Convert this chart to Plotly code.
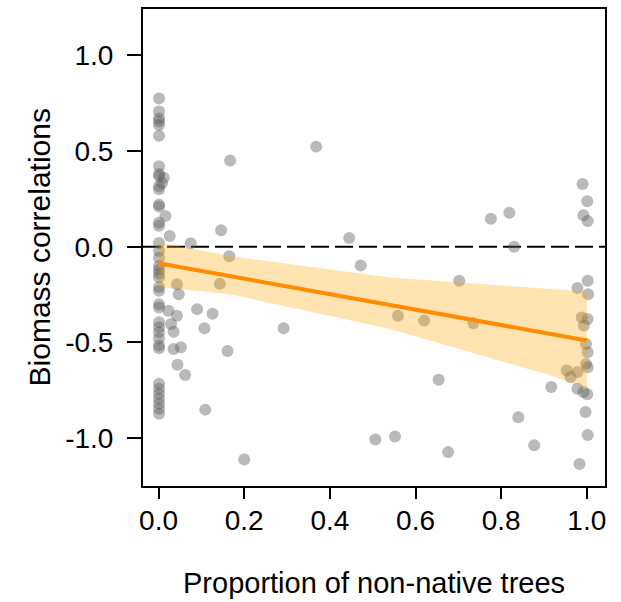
import plotly.graph_objects as go

# --- data ---
col_y = [0.775, 0.706, 0.67, 0.654, 0.636, 0.58, 0.42, 0.38, 0.37, 0.30, 0.316, 0.22, 0.21,
         0.125, 0.11, 0.02, -0.022, -0.057, -0.1, -0.12, -0.14, -0.16, -0.21, -0.23, -0.30,
         -0.317, -0.395, -0.42, -0.447, -0.48, -0.516, -0.53, -0.716, -0.742, -0.768, -0.794,
         -0.82, -0.846, -0.872]
col_x = [0.001] * len(col_y)

near_x = [0.012, 0.008, 0.016, 0.026, 0.075, 0.023, 0.029, 0.043, 0.047, 0.043, 0.09, 0.107,
          0.035, 0.035, 0.052, 0.044, 0.062, 0.109, 0.146, 0.167, 0.165, 0.143, 0.126, 0.161, 0.2]
near_y = [0.36, 0.333, 0.16, 0.056, 0.018, -0.334, -0.404, -0.196, -0.248, -0.36, -0.326, -0.426,
          -0.444, -0.534, -0.525, -0.617, -0.67, -0.851, 0.086, 0.45, -0.05, -0.194, -0.35, -0.545, -1.111]

mid_x = [0.292, 0.368, 0.445, 0.472, 0.506, 0.552, 0.559, 0.62, 0.654, 0.676, 0.702, 0.735,
         0.776, 0.819, 0.83, 0.84, 0.877, 0.917]
mid_y = [-0.426, 0.523, 0.046, -0.098, -1.007, -0.991, -0.36, -0.386, -0.695, -1.073, -0.178, -0.4,
         0.146, 0.178, 0.0, -0.891, -1.037, -0.733]

right_x = [0.99, 1.001, 0.992, 1.002, 0.978, 1.002, 1.003, 0.988, 1.002, 0.993, 0.998, 1.002,
           0.998, 1.002, 0.953, 0.978, 0.962, 0.978, 0.992, 1.001, 0.997, 1.002, 0.983]
right_y = [0.328, 0.238, 0.165, 0.134, -0.216, -0.178, -0.248, -0.37, -0.378, -0.412, -0.508, -0.551,
           -0.612, -0.63, -0.646, -0.655, -0.68, -0.742, -0.759, -0.771, -0.863, -0.984, -1.135]

prop_nonnative = col_x + near_x + mid_x + right_x
biomass_corr = col_y + near_y + mid_y + right_y

fit_x = [0.0, 1.0]
fit_y = [-0.086, -0.49]
band_x = [0.0, 0.167, 0.541, 0.914, 1.0]
band_upper = [0.024, -0.048, -0.161, -0.222, -0.234]
band_lower = [-0.21, -0.248, -0.43, -0.672, -0.74]

x_ticks = [0.0, 0.2, 0.4, 0.6, 0.8, 1.0]
x_ticklabels = ["0.0", "0.2", "0.4", "0.6", "0.8", "1.0"]
y_ticks = [-1.0, -0.5, 0.0, 0.5, 1.0]
y_ticklabels = ["-1.0", "-0.5", "0.0", "0.5", "1.0"]

FONT = "Liberation Sans, Arial, sans-serif"

fig = go.Figure()
fig.add_trace(go.Scatter(
    x=prop_nonnative, y=biomass_corr, mode="markers",
    marker=dict(size=12, color="rgba(90,90,90,0.42)", line=dict(width=0)),
    showlegend=False, hoverinfo="skip"))
fig.add_trace(go.Scatter(
    x=band_x + band_x[::-1], y=band_upper + band_lower[::-1],
    fill="toself", fillcolor="rgba(255,165,0,0.3)", line=dict(width=0),
    mode="lines", showlegend=False, hoverinfo="skip"))
fig.add_trace(go.Scatter(
    x=fit_x, y=fit_y, mode="lines",
    line=dict(color="#FF8C00", width=4), showlegend=False))

fig.add_shape(type="line", xref="paper", yref="y", x0=0, x1=1, y0=0, y1=0,
              line=dict(color="black", width=2, dash="18px,6px"), layer="below")

fig.update_layout(
    width=621, height=602,
    margin=dict(l=143, r=16, t=7, b=116),
    plot_bgcolor="white", paper_bgcolor="white",
    font=dict(family=FONT, size=28, color="black"),
    xaxis=dict(range=[-0.0364, 1.0424], tickvals=x_ticks, ticktext=x_ticklabels,
               showgrid=False, zeroline=False, showline=True, mirror=True,
               linecolor="black", linewidth=2, ticks="outside", ticklen=11,
               tickwidth=2, tickcolor="black", ticklabelstandoff=-3),
    yaxis=dict(range=[-1.25, 1.242], tickvals=y_ticks, ticktext=y_ticklabels,
               showgrid=False, zeroline=False, showline=True, mirror=True,
               linecolor="black", linewidth=2, ticks="outside", ticklen=14,
               tickwidth=2, tickcolor="black", ticklabelstandoff=8),
    annotations=[
        dict(text="Proportion of non-native trees", xref="paper", yref="paper",
             x=0.5, y=-0.2025, xanchor="center", yanchor="middle", showarrow=False,
             font=dict(size=29)),
        dict(text="Biomass correlations", xref="paper", yref="paper",
             x=-0.223, y=0.5, xanchor="center", yanchor="middle", showarrow=False,
             textangle=-90, font=dict(size=30)),
    ],
)

fig.write_html("out.html", config={"displayModeBar": False},
               post_script="document.body.style.margin='0';document.body.style.overflow='hidden';")
